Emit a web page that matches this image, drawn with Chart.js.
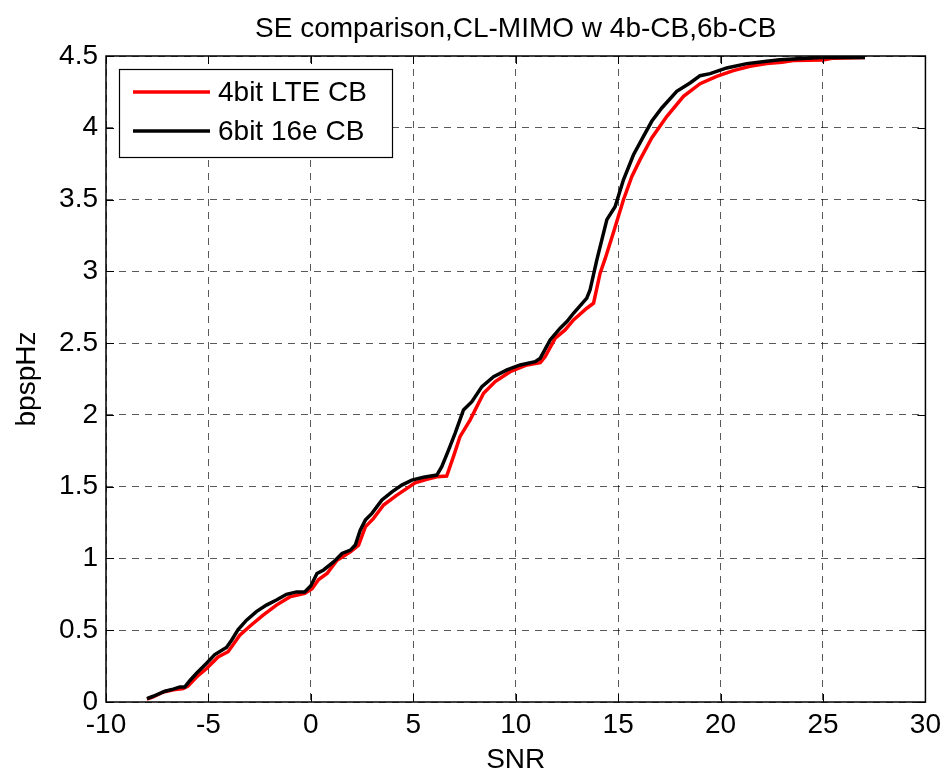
<!DOCTYPE html>
<html>
<head>
<meta charset="utf-8">
<script src="https://cdn.jsdelivr.net/npm/chart.js@4.4.1/dist/chart.umd.min.js"></script>
<style>
    html, body { margin: 0; padding: 0; background: #fff; }
    #wrap { width: 947px; height: 777px; position: relative; }
</style>
</head>
<body>
<div id="wrap"><canvas id="seChart"></canvas></div>
<script>
// SE curves
const snrLte = [-8.0, -7.7, -7.2, -6.7, -6.23, -6.0, -5.58, -5.09, -4.53, -4.04, -3.47, -2.98, -2.33, -1.68, -1.03, -0.3,
    0.06, 0.38, 0.79, 1.28, 1.93, 2.33, 2.66, 3.06, 3.55, 4.2, 4.69, 5.09, 5.66, 6.15, 6.63, 6.96, 7.28, 7.77,
    8.43, 9.0, 9.73, 10.55, 11.2, 11.44, 11.93, 12.41, 12.82, 13.47, 13.8, 14.12, 14.37, 14.77, 15.26, 15.67,
    16.07, 16.64, 17.38, 18.19, 19.0, 19.81, 20.62, 21.44, 22.25, 23.0, 23.55, 25.0, 25.5, 27.05];
const seLte = [0.02, 0.035, 0.07, 0.085, 0.093, 0.11, 0.174, 0.233, 0.314, 0.35, 0.465, 0.528, 0.605, 0.675, 0.732, 0.756,
    0.79, 0.853, 0.895, 0.988, 1.046, 1.093, 1.22, 1.279, 1.372, 1.441, 1.488, 1.527, 1.551, 1.569, 1.574, 1.709, 1.848, 1.964,
    2.151, 2.232, 2.301, 2.348, 2.364, 2.406, 2.534, 2.592, 2.662, 2.743, 2.778, 2.987, 3.09, 3.27, 3.499, 3.661,
    3.778, 3.929, 4.08, 4.219, 4.307, 4.358, 4.398, 4.428, 4.447, 4.456, 4.468, 4.472, 4.485, 4.49];

const snr16e = [-8.0, -7.7, -7.12, -6.72, -6.39, -6.15, -5.9, -5.58, -5.09, -4.69, -4.12, -3.87, -3.55, -3.14, -2.66, -2.17,
    -1.68, -1.19, -0.7, -0.3, 0.0, 0.3, 0.62, 1.11, 1.52, 1.93, 2.17, 2.41, 2.66, 2.98, 3.47, 3.96, 4.44, 4.93, 5.5,
    6.15, 6.39, 6.72, 7.04, 7.45, 7.86, 8.35, 8.92, 9.57, 10.22, 10.95, 11.2, 11.68, 12.17, 12.5, 12.82, 13.47, 13.63,
    13.96, 14.45, 14.85, 15.26, 15.75, 16.15, 16.64, 17.13, 17.86, 18.51, 19.0, 19.49, 20.3, 21.28, 22.25, 22.9, 24.9, 27.05];
const se16e = [0.024, 0.04, 0.075, 0.09, 0.105, 0.105, 0.15, 0.2, 0.27, 0.33, 0.38, 0.43, 0.505, 0.57, 0.63, 0.675,
    0.71, 0.75, 0.767, 0.767, 0.81, 0.895, 0.92, 0.976, 1.035, 1.058, 1.093, 1.197, 1.267, 1.314, 1.407, 1.464, 1.511, 1.546, 1.565,
    1.581, 1.639, 1.755, 1.872, 2.034, 2.092, 2.197, 2.266, 2.313, 2.348, 2.371, 2.395, 2.522, 2.604, 2.65, 2.708, 2.813, 2.871,
    3.08, 3.36, 3.45, 3.638, 3.812, 3.917, 4.045, 4.138, 4.254, 4.312, 4.363, 4.377, 4.417, 4.447, 4.463, 4.474, 4.49, 4.49];

const seriesNames = ['4bit LTE CB', '6bit 16e CB'];
const seriesColors = ['#ff0000', '#000000'];
const titleText = 'SE comparison,CL-MIMO w 4b-CB,6b-CB';
const xLabel = 'SNR';
const yLabel = 'bpspHz';

const FONT = '"Liberation Sans", Arial, Helvetica, sans-serif';
const FONT_SIZE = 28;

function toPoints(xs, ys) {
    return xs.map((x, i) => ({x: x, y: ys[i]}));
}

// box, inward ticks, title and legend in matlab style
const matlabFrame = {
    id: 'matlabFrame',
    afterDraw(chart) {
        const ctx = chart.ctx;
        const a = chart.chartArea;
        const sx = chart.scales.x;
        const sy = chart.scales.y;
        ctx.save();

        ctx.strokeStyle = '#000';
        ctx.lineWidth = 1;
        ctx.beginPath();
        sx.ticks.forEach(t => {
            const px = Math.round(sx.getPixelForValue(t.value)) + 0.5;
            ctx.moveTo(px, a.bottom); ctx.lineTo(px, a.bottom - 8);
            ctx.moveTo(px, a.top); ctx.lineTo(px, a.top + 8);
        });
        sy.ticks.forEach(t => {
            const py = Math.round(sy.getPixelForValue(t.value)) + 0.5;
            ctx.moveTo(a.left, py); ctx.lineTo(a.left + 8, py);
            ctx.moveTo(a.right, py); ctx.lineTo(a.right - 8, py);
        });
        ctx.stroke();

        ctx.lineWidth = 1.5;
        ctx.strokeRect(a.left, a.top, a.right - a.left, a.bottom - a.top);

        // title
        ctx.fillStyle = '#000';
        ctx.font = FONT_SIZE + 'px ' + FONT;
        ctx.textAlign = 'center';
        ctx.textBaseline = 'middle';
        ctx.fillText(titleText, (a.left + a.right) / 2, 29);

        // legend
        const lx = 119, ly = 69, lw = 273, lh = 88;
        ctx.fillStyle = '#fff';
        ctx.fillRect(lx, ly, lw, lh);
        ctx.lineWidth = 1.2;
        ctx.strokeStyle = '#000';
        ctx.strokeRect(lx + 0.5, ly + 0.5, lw, lh);
        const rows = [92, 131];
        seriesNames.forEach((name, i) => {
            ctx.strokeStyle = seriesColors[i];
            ctx.lineWidth = 3.5;
            ctx.beginPath();
            ctx.moveTo(133, rows[i]);
            ctx.lineTo(210, rows[i]);
            ctx.stroke();
            ctx.fillStyle = '#000';
            ctx.textAlign = 'left';
            ctx.fillText(name, 218, rows[i] + 1);
        });
        ctx.restore();
    }
};

new Chart(document.getElementById('seChart'), {
    type: 'line',
    data: {
        datasets: [
            {
                label: seriesNames[0],
                data: toPoints(snrLte, seLte),
                borderColor: seriesColors[0],
                borderWidth: 3.5,
                pointRadius: 0,
                tension: 0,
                order: 1
            },
            {
                label: seriesNames[1],
                data: toPoints(snr16e, se16e),
                borderColor: seriesColors[1],
                borderWidth: 3.5,
                pointRadius: 0,
                tension: 0,
                order: 0
            }
        ]
    },
    options: {
        responsive: true,
        maintainAspectRatio: false,
        animation: false,
        layout: {
            padding: {top: 56, right: 20, left: 0, bottom: 0}
        },
        plugins: {
            legend: {display: false},
            title: {display: false},
            tooltip: {enabled: false}
        },
        scales: {
            x: {
                type: 'linear',
                min: -10,
                max: 30,
                ticks: {
                    stepSize: 5,
                    padding: 6,
                    color: '#000',
                    font: {family: FONT, size: FONT_SIZE}
                },
                grid: {
                    color: 'rgba(0,0,0,0.65)',
                    lineWidth: 1,
                    drawTicks: false
                },
                border: {display: false, dash: [7, 6]},
                title: {
                    display: true,
                    text: xLabel,
                    color: '#000',
                    font: {family: FONT, size: FONT_SIZE},
                    padding: {top: 0, bottom: 0}
                },
                afterFit(scale) {
                    scale.height = 75;
                }
            },
            y: {
                min: 0,
                max: 4.5,
                ticks: {
                    stepSize: 0.5,
                    padding: 8,
                    color: '#000',
                    font: {family: FONT, size: FONT_SIZE},
                    callback: (v) => String(Number(v.toFixed(1)))
                },
                grid: {
                    color: 'rgba(0,0,0,0.65)',
                    lineWidth: 1,
                    drawTicks: false
                },
                border: {display: false, dash: [7, 6]},
                title: {
                    display: true,
                    text: yLabel,
                    color: '#000',
                    font: {family: FONT, size: FONT_SIZE},
                    padding: {top: 10, bottom: 0}
                },
                afterFit(scale) {
                    scale.width = 106;
                }
            }
        }
    },
    plugins: [matlabFrame]
});
</script>
</body>
</html>
